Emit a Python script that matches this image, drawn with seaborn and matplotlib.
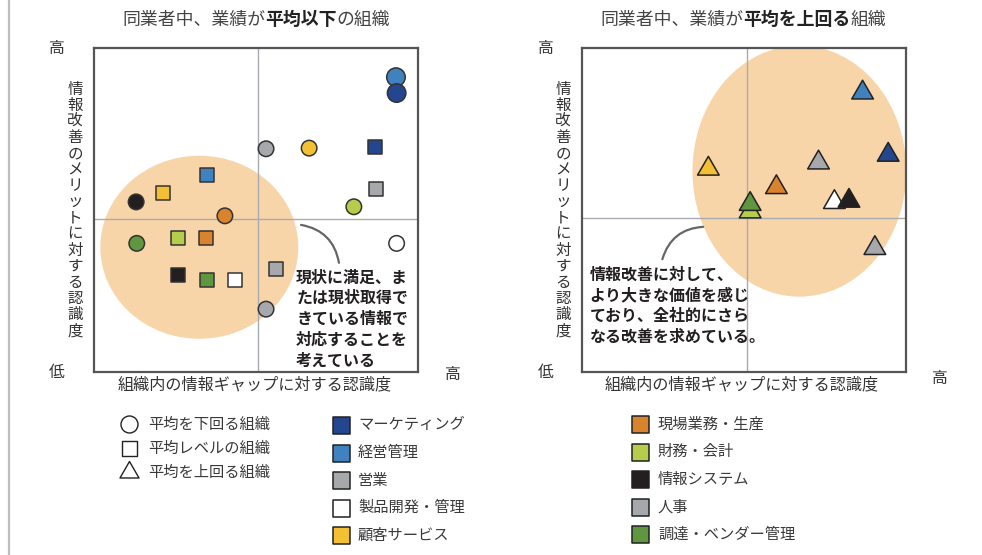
import numpy as np
import pandas as pd
import matplotlib
matplotlib.use("Agg")
import matplotlib.pyplot as plt
import seaborn as sns
from matplotlib.patches import Ellipse
from matplotlib.path import Path
from matplotlib.lines import Line2D

# ---------------- data ----------------
departments = ['経営管理', 'マーケティング', '営業', '人事', '製品開発・管理',
               '顧客サービス', '現場業務・生産', '財務・会計', '情報システム', '調達・ベンダー管理']
dept_colors = {
    'マーケティング': '#24468e',
    '経営管理': '#4082bf',
    '営業': '#a6a8ab',
    '製品開発・管理': '#ffffff',
    '顧客サービス': '#f4c033',
    '現場業務・生産': '#d9832f',
    '財務・会計': '#b6cd4b',
    '情報システム': '#231f20',
    '人事': '#a6a8ab',
    '調達・ベンダー管理': '#5f9741',
}
legend_col1 = ['マーケティング', '経営管理', '営業', '製品開発・管理', '顧客サービス']
legend_col2 = ['現場業務・生産', '財務・会計', '情報システム', '人事', '調達・ベンダー管理']
shape_labels = ['平均を下回る組織', '平均レベルの組織', '平均を上回る組織']

# left panel: below-average peers -> circles (平均を下回る) & squares (平均レベル)
circle_x = [93.2, 93.4, 53.1, 53.1, 93.4, 66.4, 40.4, 80.2, 13.0, 13.2]
circle_y = [91.0, 86.1, 68.9, 19.4, 39.7, 69.1, 48.2, 51.0, 52.5, 39.7]
circle_px = [18.5, 18.5, 15.5, 15.5, 15.5, 15.5, 15.5, 15.5, 15.5, 15.5]
square_x = [35.0, 86.8, 87.0, 56.2, 43.4, 21.4, 34.6, 26.0, 25.9, 35.0]
square_y = [60.9, 69.5, 56.6, 31.7, 28.4, 55.2, 41.3, 41.3, 29.9, 28.4]
# right panel: above-average peers -> triangles (平均を上回る)
tri_x = [86.6, 94.5, 73.0, 90.4, 77.9, 39.0, 60.0, 51.9, 82.4, 51.9]
tri_y = [86.2, 67.0, 64.6, 38.2, 52.4, 62.7, 57.0, 49.5, 52.8, 51.8]

titles = [
    [('同業者中、業績が', False), ('平均以下', True), ('の組織', False)],
    [('同業者中、業績が', False), ('平均を上回る', True), ('組織', False)],
]
x_label = '組織内の情報ギャップに対する認識度'
y_label = '情報改善のメリットに対する認識度'
notes = ['現状に満足、ま\nたは現状取得で\nきている情報で\n対応することを\n考えている',
         '情報改善に対して、\nより大きな価値を感じ\nており、全社的にさら\nなる改善を求めている。']

# ---------------- style ----------------
sns.set_style('white')
plt.rcParams['font.family'] = ['Noto Sans CJK JP', 'DejaVu Sans']

W, H = 982, 555
fig = plt.figure(figsize=(W / 100, H / 100), dpi=100)


def fx(x):
    return x / W


def fy(y):
    return 1 - y / H


PT = 72 / 100  # points per pixel

# equilateral triangle marker
tri_marker = Path([(-1, -0.577), (1, -0.577), (0, 1.155), (-1, -0.577)],
                  [Path.MOVETO, Path.LINETO, Path.LINETO, Path.CLOSEPOLY])

axL = fig.add_axes([fx(94), fy(372), 324 / W, 324 / H])
axR = fig.add_axes([fx(582), fy(372), 324 / W, 324 / H])

for ax in (axL, axR):
    ax.set_xlim(0, 100)
    ax.set_ylim(0, 100)
    ax.set_xticks([])
    ax.set_yticks([])
    for s in ax.spines.values():
        s.set_color('#555555')
        s.set_linewidth(1.6)
        s.set_zorder(6)

# ellipses (peach background regions)
peach = '#f8d5a9'
axL.add_patch(Ellipse((32.5, 38.5), 61.1, 56.5, color=peach, lw=0, zorder=0))
axR.add_patch(Ellipse((67.1, 62.0), 66.0, 77.5, color=peach, lw=0, zorder=0))

# crosshairs
axL.axvline(50.6, color='#a9abb0', lw=1.0, zorder=1)
axL.axhline(47.2, color='#a9abb0', lw=1.0, zorder=1)
axR.axvline(50.9, color='#a9abb0', lw=1.0, zorder=1)
axR.axhline(47.5, color='#a9abb0', lw=1.0, zorder=1)

dfc = pd.DataFrame({'x': circle_x, 'y': circle_y, 'dept': departments,
                    'sz': [(p * PT) ** 2 for p in circle_px]})
dfs = pd.DataFrame({'x': square_x, 'y': square_y, 'dept': departments})
dft = pd.DataFrame({'x': tri_x, 'y': tri_y, 'dept': departments})

sns.scatterplot(data=dfs, x='x', y='y', hue='dept', palette=dept_colors, marker='s',
                s=(14 * PT) ** 2, edgecolor='#333333', linewidth=1.1, legend=False,
                ax=axL, zorder=3)
sns.scatterplot(data=dfc, x='x', y='y', hue='dept', palette=dept_colors, marker='o',
                size='sz', sizes=(dfc['sz'].min(), dfc['sz'].max()),
                edgecolor='#333333', linewidth=1.1, legend=False, ax=axL, zorder=4)
sns.scatterplot(data=dft, x='x', y='y', hue='dept', palette=dept_colors, marker=tri_marker,
                s=(25 * PT) ** 2, edgecolor='#222222', linewidth=1.1, legend=False,
                ax=axR, zorder=3)

for ax in (axL, axR):
    ax.set_xlabel('')
    ax.set_ylabel('')
    ax.set_xlim(0, 100)
    ax.set_ylim(0, 100)

# annotation curves & notes
axL.annotate('', xy=(75.6, 33.7), xytext=(63.9, 45.4),
             arrowprops=dict(arrowstyle='-', connectionstyle='arc3,rad=-0.35',
                             color='#666666', lw=1.6, shrinkA=0, shrinkB=0), zorder=2)
axR.annotate('', xy=(24.8, 34.8), xytext=(37.4, 44.8),
             arrowprops=dict(arrowstyle='-', connectionstyle='arc3,rad=0.35',
                             color='#666666', lw=1.6, shrinkA=0, shrinkB=0), zorder=2)
axL.text(62.4, 31.6, notes[0], ha='left', va='top', fontsize=11.5, fontweight='bold',
         color='#231f20', linespacing=1.36, zorder=5)
axR.text(2.4, 32.4, notes[1], ha='left', va='top', fontsize=11.5, fontweight='bold',
         color='#231f20', linespacing=1.36, zorder=5)

# axis labels
txt_col = '#333333'
for cx, lx, hx, hy in [(255, 57, 453, 375), (742, 546, 940, 378)]:
    fig.text(fx(cx), fy(385), x_label, ha='center', va='center', fontsize=11.6, color=txt_col)
    fig.text(fx(lx), fy(48), '高', ha='center', va='center', fontsize=11.4, color=txt_col)
    fig.text(fx(lx), fy(373), '低', ha='center', va='center', fontsize=11.4, color=txt_col)
    fig.text(fx(hx), fy(hy), '高', ha='center', va='center', fontsize=11.4, color=txt_col)

for vx in (75, 563):
    fig.text(fx(vx), fy(210), '\n'.join(y_label), ha='center', va='center',
             fontsize=11.2, color=txt_col, linespacing=0.93)

# titles with mixed weight
fig.canvas.draw()
renderer = fig.canvas.get_renderer()
for pieces, cx in zip(titles, (256, 743)):
    objs = []
    for s, b in pieces:
        t = fig.text(0, fy(20), s, ha='left', va='center', fontsize=12.9,
                     fontweight='bold' if b else 'normal',
                     color='#222222' if b else '#444444')
        objs.append(t)
    widths = [o.get_window_extent(renderer).width for o in objs]
    x0 = cx - sum(widths) / 2
    for o, w in zip(objs, widths):
        o.set_x(fx(x0))
        x0 += w

# legends (overlay axes in pixel coordinates)
lax = fig.add_axes([0, 0, 1, 1])
lax.set_xlim(0, W)
lax.set_ylim(H, 0)
lax.axis('off')

shape_markers = ['o', 's', tri_marker]
shape_sizes = [17, 15, 22]
for i, (lab, m, sz) in enumerate(zip(shape_labels, shape_markers, shape_sizes)):
    yy = 424 + i * 24
    lax.scatter([129], [yy], marker=m, s=(sz * PT) ** 2, facecolor='white',
                edgecolor='#222222', linewidth=1.0)
    lax.text(148, yy, lab, ha='left', va='center', fontsize=11, color='#3a3a3a')

for col, (sx, tx, y0) in zip((legend_col1, legend_col2), ((341, 358, 425), (640, 658, 424))):
    for i, dep in enumerate(col):
        yy = y0 + i * 27.6
        lax.scatter([sx], [yy], marker='s', s=(17 * PT) ** 2, facecolor=dept_colors[dep],
                    edgecolor='#222222', linewidth=1.1)
        lax.text(tx, yy, dep, ha='left', va='center', fontsize=11, color='#3a3a3a')

# left border line
fig.add_artist(Line2D([fx(8.5), fx(8.5)], [0, 1], color='#bdbdbd', lw=1.6))

fig.savefig('out.png', dpi=100)
